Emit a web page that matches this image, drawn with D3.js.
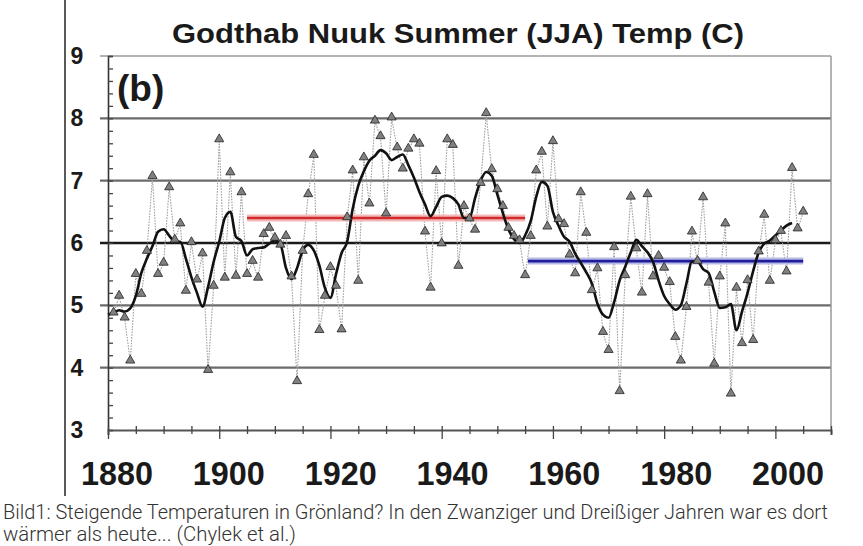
<!DOCTYPE html>
<html><head><meta charset="utf-8">
<script src="https://cdn.jsdelivr.net/npm/d3@7/dist/d3.min.js"></script>
<style>html,body{margin:0;padding:0;background:#fff;}svg{display:block;}</style>
</head><body>
<svg id="c" width="863" height="546"></svg>
<script>
// ---- data ----
const startYear = 1881;
const annualTemp = [
 4.87,5.14,4.79,4.10,5.49,5.17,5.86,7.06,5.49,5.67, // 1881-1890
 6.88,6.04,6.30,5.22,6.00,5.40,5.82,3.95,5.30,7.65, // 1891-1900
 5.43,7.12,5.46,6.80,5.49,5.70,5.43,6.13,6.23,6.07, // 1901-1910
 5.96,6.10,5.45,3.77,5.86,6.77,7.40,4.59,5.14,5.60, // 1911-1920
 5.30,4.60,6.40,7.15,5.38,7.36,6.62,7.95,7.70,6.46, // 1921-1930
 8.00,7.52,7.18,7.50,7.65,7.58,6.17,5.27,7.14,5.98, // 1931-1940
 7.65,7.56,5.62,6.58,6.38,6.20,6.95,8.07,7.17,6.85, // 1941-1950
 6.58,6.23,6.10,6.03,5.47,6.10,7.15,7.45,6.25,7.62, // 1951-1960
 6.37,6.29,5.80,5.50,6.80,6.15,5.23,5.58,4.56,4.27, // 1961-1970
 5.92,3.61,5.47,6.73,5.90,5.19,6.77,5.45,5.78,5.59, // 1971-1980
 5.36,4.48,4.10,4.96,6.17,5.70,6.72,5.35,4.05,5.45, // 1981-1990
 6.30,3.57,5.27,4.38,5.39,4.43,5.85,6.44,5.38,6.03, // 1991-2000
 6.18,5.53,7.19,6.22,6.49                            // 2001-2005
];
const smoothStart = 1880;
const smoothTemp = [
 4.85,4.88,4.92,4.90,4.95,5.15,5.52,5.75,5.95,6.18, // 1880-1889
 6.22,6.12,6.02,6.02,5.75,5.45,5.20,4.98,5.30,5.70, // 1890-1899
 6.02,6.40,6.50,6.10,6.03,5.80,5.90,5.92,5.93,5.99, // 1900-1909
 6.04,5.98,5.60,5.42,5.60,5.88,5.97,5.88,5.64,5.28, // 1910-1919
 5.12,5.50,5.84,6.02,6.55,6.92,7.15,7.32,7.40,7.49, // 1920-1929
 7.44,7.33,7.38,7.42,7.25,7.05,6.82,6.62,6.43,6.58, // 1930-1939
 6.74,6.76,6.72,6.62,6.40,6.40,6.72,7.00,7.14,7.08, // 1940-1949
 6.78,6.48,6.22,6.06,6.00,6.12,6.35,6.74,6.98,6.92, // 1950-1959
 6.50,6.28,6.10,6.02,5.83,5.68,5.53,5.35,5.03,4.85, // 1960-1969
 4.80,5.05,5.40,5.62,5.85,6.05,5.95,5.85,5.70,5.40, // 1970-1979
 5.15,5.02,4.93,5.00,5.35,5.70,5.70,5.58,5.52,5.22, // 1980-1989
 4.96,4.97,5.02,4.60,4.90,5.20,5.55,5.85,5.99,6.04, // 1990-1999
 6.12,6.20,6.28,6.32                                 // 2000-2003
];
const periodMeans = [
  {from:1905, to:1955, value:6.40, color:"#d42a2a", halo:"#f3b9b9"},
  {from:1955.5, to:2005, value:5.71, color:"#1e1e9c", halo:"#b9b9e6"}
];
const yTicks = [3,4,5,6,7,8,9];
const xTickLabels = [1880,1900,1920,1940,1960,1980,2000];
const titleText = "Godthab Nuuk Summer (JJA) Temp (C)";
const panelLabel = "(b)";
const captionLines = [
  "Bild1: Steigende Temperaturen in Grönland? In den Zwanziger und Dreißiger Jahren war es dort",
  "wärmer als heute... (Chylek et al.)"
];

const annual = annualTemp.map((v,i)=>({year:startYear+i, v}));
const smooth = smoothTemp.map((v,i)=>({year:smoothStart+i, v}));

// ---- layout ----
const svg = d3.select("#c");
const x = d3.scaleLinear().domain([1880, 2010]).range([108, 831]);
const y = d3.scaleLinear().domain([3, 9]).range([430, 56]);
// the year labels in the original sit slightly right of their ticks
const xLabel = d3.scaleLinear().domain([1880, 2000]).range([117, 788]);

// left border line of image
svg.append("line").attr("x1",65).attr("x2",65).attr("y1",0).attr("y2",496)
  .attr("stroke","#222").attr("stroke-width",1.5);

// title
svg.append("text").attr("x",458).attr("y",43).attr("text-anchor","middle")
  .attr("font-family","Liberation Sans, Arial, sans-serif").attr("font-weight","bold")
  .attr("font-size",27).attr("fill","#1a1a1a")
  .attr("textLength",572).attr("lengthAdjust","spacingAndGlyphs").text(titleText);

// gridlines
const g = svg.append("g");
yTicks.forEach(t=>{
  if (t===3) return;
  let col = "#6b6b6b", w = 2.2;
  if (t===6) { col = "#1a1a1a"; w = 2.6; }
  if (t===9) { col = "#9a9a9a"; w = 1.5; }
  g.append("line").attr("x1",100).attr("x2",x(2010)).attr("y1",y(t)).attr("y2",y(t))
    .attr("stroke",col).attr("stroke-width",w);
});
// right frame
g.append("line").attr("x1",x(2010)).attr("x2",x(2010)).attr("y1",y(9)).attr("y2",y(3))
  .attr("stroke","#9a9a9a").attr("stroke-width",1.5);

// left axis with minor ticks
const yAxis = d3.axisRight(y).tickValues(d3.range(3,9.001,0.2)).tickSize(5).tickFormat("");
const ya = svg.append("g").attr("transform",`translate(${x(1880)},0)`).call(yAxis);
ya.select(".domain").attr("stroke","#333").attr("stroke-width",1.6);
ya.selectAll(".tick line").attr("stroke","#444").attr("stroke-width",1.3);

// y labels
svg.append("g").selectAll("text").data(yTicks).join("text")
  .attr("x",77).attr("y",d=>y(d)+8).attr("text-anchor","middle")
  .attr("font-family","Liberation Sans, Arial, sans-serif").attr("font-weight","bold")
  .attr("font-size",23).attr("fill","#1a1a1a").text(d=>d);

// bottom axis
const xa = svg.append("g").attr("transform",`translate(0,${y(3)})`)
  .call(d3.axisBottom(x).tickValues(d3.range(1880,2011,5)).tickSize(5).tickFormat(""));
xa.select(".domain").attr("stroke","#555").attr("stroke-width",2);
xa.selectAll(".tick line").attr("stroke","#444").attr("stroke-width",1.3)
  .attr("y1",-4).attr("y2",d=>d%20===0?9:4);
svg.append("g").selectAll("text").data(xTickLabels).join("text")
  .attr("x",d=>xLabel(d)-36).attr("y",485)
  .attr("font-family","'Liberation Sans Narrow', 'Arial Narrow', 'Liberation Sans', sans-serif")
  .attr("font-weight","bold")
  .attr("font-size",34).attr("fill","#1a1a1a")
  .attr("textLength",72).attr("lengthAdjust","spacingAndGlyphs").text(d=>d);

// panel label
svg.append("text").attr("x",117).attr("y",101)
  .attr("font-family","Liberation Sans, Arial, sans-serif").attr("font-weight","bold")
  .attr("font-size",37).attr("fill","#1a1a1a").text(panelLabel);

// annual series (thin dotted gray line)
const line = d3.line().x(d=>x(d.year)).y(d=>y(d.v));
svg.append("path").datum(annual).attr("d",line).attr("fill","none")
  .attr("stroke","#a0a0a0").attr("stroke-width",1.1).attr("stroke-dasharray","1.6,1.2");

// period means
periodMeans.forEach(p=>{
  svg.append("line").attr("x1",x(p.from)).attr("x2",x(p.to)).attr("y1",y(p.value)).attr("y2",y(p.value))
    .attr("stroke",p.halo).attr("stroke-width",7);
  svg.append("line").attr("x1",x(p.from)).attr("x2",x(p.to)).attr("y1",y(p.value)).attr("y2",y(p.value))
    .attr("stroke",p.color).attr("stroke-width",2.6);
});

// smoothed series
svg.append("path").datum(smooth).attr("d",d3.line().curve(d3.curveMonotoneX).x(d=>x(d.year)).y(d=>y(d.v)))
  .attr("fill","none").attr("stroke","#111").attr("stroke-width",2.6).attr("stroke-linejoin","round");

// triangle markers
const sym = d3.symbol().type(d3.symbolTriangle).size(36);
svg.append("g").selectAll("path").data(annual).join("path")
  .attr("d",sym).attr("transform",d=>`translate(${x(d.year)},${y(d.v)-1})`)
  .attr("fill","#808080").attr("stroke","#222").attr("stroke-width",0.8);

// caption
const cap = svg.append("g").attr("font-family","Roboto, 'Open Sans', sans-serif")
  .attr("font-weight",300).attr("font-size",20).attr("fill","#333");
cap.append("text").attr("x",3).attr("y",519).attr("textLength",825)
  .attr("lengthAdjust","spacingAndGlyphs").text(captionLines[0]);
cap.append("text").attr("x",3).attr("y",541).attr("textLength",293)
  .attr("lengthAdjust","spacingAndGlyphs").text(captionLines[1]);
</script>
</body></html>
